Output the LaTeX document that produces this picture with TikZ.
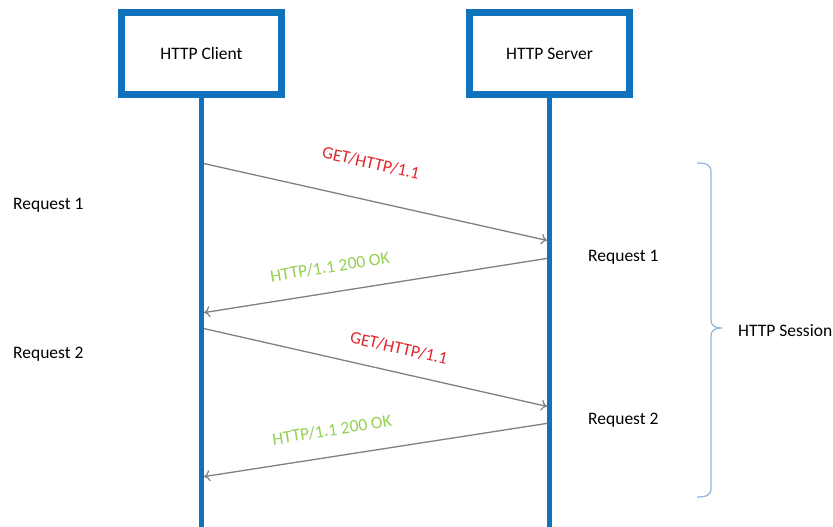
\documentclass[tikz,border=0pt]{standalone}
\usepackage{fontspec}
\setmainfont{Carlito}
\usetikzlibrary{arrows.meta}
\definecolor{lifeblue}{RGB}{16,114,189}
\definecolor{msggray}{RGB}{128,128,128}
\definecolor{reqred}{RGB}{222,40,46}
\definecolor{respgreen}{RGB}{146,208,80}
\definecolor{bracecol}{RGB}{141,180,222}
\begin{document}
\begin{tikzpicture}[x=1pt,y=-1pt,
  every node/.style={font=\fontsize{17.5}{20}\selectfont},
  actor/.style={draw=lifeblue,line width=6.5pt,fill=white,minimum width=160pt,minimum height=82pt,inner sep=0pt},
  lifeline/.style={draw=lifeblue,line width=5pt},
  msg/.style={draw=msggray,line width=1.3pt,-{To[length=6pt,width=11pt,line width=1.2pt]},shorten >=2.5pt,shorten <=2.5pt},
  reqlabel/.style={text=reqred,rotate=-12.7,inner sep=0pt},
  resplabel/.style={text=respgreen,rotate=9,inner sep=0pt},
  side/.style={anchor=west,inner sep=0pt},
  sessionbrace/.style={draw=bracecol,line width=1.2pt}]
\useasboundingbox (0,0) rectangle (833,527);

% lifeline ends
\coordinate (cend) at (201.5,527);
\coordinate (send) at (549.5,527);

% message end points on the lifelines
\coordinate (c1) at (201.5,163);
\coordinate (s1) at (549.5,241);
\coordinate (s2) at (549.5,258);
\coordinate (c2) at (201.5,313);
\coordinate (c3) at (201.5,328);
\coordinate (s3) at (549.5,407);
\coordinate (s4) at (549.5,423);
\coordinate (c4) at (201.5,477);

% participants
\node[actor] (client) at (201.5,53.5) {HTTP Client};
\node[actor] (server) at (549.5,53.5) {HTTP Server};
\draw[lifeline] (client.south) -- (cend);
\draw[lifeline] (server.south) -- (send);

% messages
\draw[msg] (c1) -- (s1);
\draw[msg] (s2) -- (c2);
\draw[msg] (c3) -- (s3);
\draw[msg] (s4) -- (c4);

\node[reqlabel] (get1) at (371,163) {GET/HTTP/1.1};
\node[resplabel] (ok1) at (330,267) {HTTP/1.1 200 OK};
\node[reqlabel] (get2) at (399,348) {GET/HTTP/1.1};
\node[resplabel] (ok2) at (332,430) {HTTP/1.1 200 OK};

% side notes
\node[side] (lreq1) at (13,205) {Request 1};
\node[side] (lreq2) at (13,354) {Request 2};
\node[side] (rreq1) at (588,257) {Request 1};
\node[side] (rreq2) at (588,420) {Request 2};

% session brace with small end curls
\coordinate (btop) at (697,163);
\coordinate (bbot) at (697,497);
\coordinate (btip) at (722,328);
\draw[sessionbrace]
  (btop) .. controls (707,163) and (711,165) .. (711,172)
  -- (711,320) .. controls (711,326) and (715,328) .. (btip)
  (btip) .. controls (715,328) and (711,330) .. (711,336)
  -- (711,488) .. controls (711,495) and (707,497) .. (bbot);
\node[side] (session) at (738,331) {HTTP Session};
\end{tikzpicture}
\end{document}
